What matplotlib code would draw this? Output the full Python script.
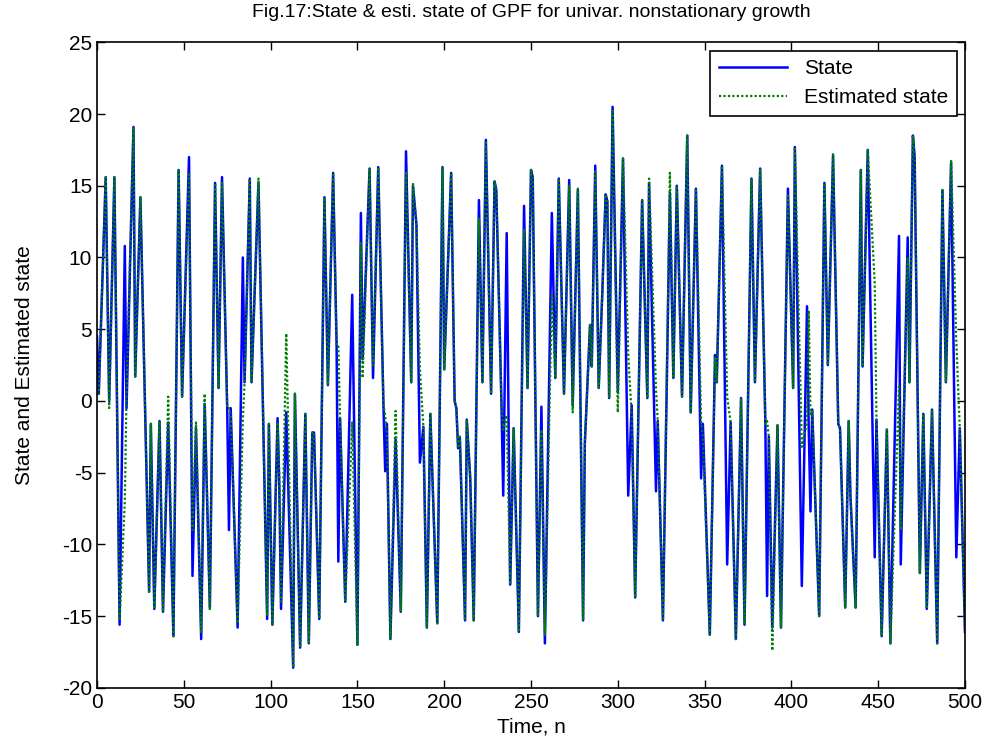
import matplotlib
matplotlib.use("Agg")
import matplotlib.pyplot as plt

plt.rcParams['font.family'] = ['Liberation Sans', 'DejaVu Sans']
plt.rcParams['axes.unicode_minus'] = False

# time steps where the trajectories turn, with true and estimated state values
time_n = [0, 1, 5, 7, 10, 13, 16, 17, 21, 22, 25, 30, 31, 33, 36, 38, 41, 44, 47, 49,
          53, 55, 57, 60, 62, 65, 68, 70, 72, 75, 76, 77, 81, 84, 85, 88, 89, 93, 98, 99,
          101, 104, 105, 106, 109, 113, 114, 117, 120, 122, 124, 125, 128, 131, 133, 136, 138, 139, 140, 143,
          147, 150, 152, 153, 157, 159, 162, 165, 166, 167, 169, 172, 175, 178, 181, 182, 184, 186, 188, 190,
          192, 196, 199, 200, 204, 206, 207, 208, 209, 212, 213, 215, 217, 220, 222, 224, 227, 229, 230, 233,
          234, 236, 238, 240, 243, 246, 248, 250, 251, 254, 256, 258, 262, 264, 266, 269, 272, 274, 277, 280,
          281, 284, 285, 287, 289, 291, 293, 294, 295, 297, 300, 303, 306, 308, 310, 314, 317, 318, 322, 323,
          326, 330, 332, 334, 337, 340, 342, 345, 348, 349, 353, 356, 357, 360, 363, 365, 368, 371, 373, 377,
          379, 382, 385, 386, 387, 389, 392, 394, 398, 401, 402, 406, 409, 410, 411, 412, 416, 419, 421, 424,
          427, 428, 431, 433, 434, 437, 440, 441, 444, 448, 449, 452, 455, 457, 462, 463, 467, 468, 470, 471,
          474, 476, 478, 481, 484, 487, 489, 492, 495, 497, 500]

state = [4.5, 0.5, 15.6, 0.0, 15.6, -15.6, 10.8, -0.5, 19.1, 1.7, 14.2, -13.3, -1.6, -14.5, -1.4, -14.7, -1.5, -16.4, 16.1, 0.3,
         17.0, -12.2, -1.9, -16.6, -0.2, -14.4, 15.2, 0.9, 15.6, -0.6, -9.0, -0.5, -15.8, 10.0, 1.3, 15.5, 1.3, 15.2, -15.2, -1.6,
         -15.6, -1.2, -6.0, -14.5, -0.8, -18.6, 0.5, -17.2, -0.9, -16.9, -2.2, -2.2, -15.2, 14.2, 1.1, 15.9, 4.0, -11.2, -1.2, -14.0,
         7.4, -17.0, 13.1, 2.9, 16.2, 1.6, 16.3, -0.3, -4.9, -1.6, -16.6, -2.7, -14.7, 17.4, 1.3, 15.0, 12.3, -4.3, -1.8, -15.8,
         -0.9, -15.5, 16.3, 2.2, 15.9, 0.0, -0.5, -3.3, -2.5, -15.3, -1.3, -5.4, -15.3, 14.0, 1.3, 18.2, 0.5, 15.3, 14.7, -0.3,
         -6.6, 11.7, -12.8, -1.9, -16.1, 13.6, 0.9, 16.1, 15.6, -15.0, -0.4, -16.9, 13.1, 1.6, 15.5, 0.5, 15.4, -0.3, 14.7, -15.3,
         -3.0, 5.3, 2.4, 16.4, 0.9, 7.3, 14.4, 13.9, 0.2, 20.5, 0.6, 16.9, -6.6, -0.3, -13.7, 14.0, 0.2, 15.2, -6.3, -1.4,
         -15.3, 14.5, 1.6, 15.0, 0.3, 18.5, -0.8, 14.8, -5.4, -1.6, -16.3, 3.2, 1.3, 16.4, -11.4, -1.5, -16.6, 0.2, -15.6, 15.5,
         1.3, 16.2, -1.6, -13.6, -2.5, -15.8, -1.7, -15.8, 14.8, 0.9, 17.7, -12.9, 6.6, -2.0, -7.7, -0.6, -15.0, 15.2, 2.5, 17.1,
         -1.6, -1.9, -14.4, -1.4, -6.6, -14.4, 16.1, 2.4, 17.5, -10.9, -1.3, -16.4, -2.0, -16.9, 11.5, -11.4, 11.4, 1.3, 18.5, 17.0,
         -12.0, -0.9, -14.5, -0.6, -16.9, 14.7, 1.3, 16.6, -10.9, -1.9, -16.1]

est_state = [0.5, 0.5, 15.6, -0.5, 15.6, -15.3, -7.0, 0.5, 19.1, 1.7, 14.2, -13.3, -1.6, -14.5, -1.4, -14.7, 0.3, -16.4, 16.1, 0.3,
             15.8, -9.0, -1.5, -16.2, 0.5, -14.6, 15.2, 0.9, 15.2, -0.5, -0.5, -1.0, -15.5, -1.3, 1.3, 15.5, 1.3, 15.5, -15.0, -1.6,
             -15.6, -1.5, -5.0, -14.0, 4.7, -18.6, 0.5, -17.2, -0.9, -16.9, -2.2, -2.2, -15.2, 14.2, 1.1, 15.9, 3.8, 3.8, -1.2, -14.0,
             -1.5, -17.0, 11.0, 1.6, 16.2, 2.5, 16.3, -0.3, -1.0, -2.5, -16.6, -0.7, -14.7, 16.0, 1.3, 15.2, 12.3, 2.2, -1.8, -15.8,
             -0.9, -15.5, 16.3, 2.2, 15.9, 0.0, -0.5, -3.3, -2.5, -15.3, -1.3, -5.4, -15.3, 12.7, 1.3, 18.0, 0.5, 15.3, 14.7, -0.3,
             -2.0, -1.0, -12.8, -1.9, -16.1, 12.0, 0.9, 16.1, 15.6, -15.0, -2.0, -16.3, 7.5, 1.6, 15.5, 0.5, 15.0, -0.8, 14.8, -15.3,
             -3.0, 5.3, 2.4, 16.0, 0.9, 7.3, 14.4, 13.9, 0.2, 20.2, -0.8, 16.9, 3.2, -1.0, -13.7, 14.0, 0.2, 15.5, 0.8, -1.4,
             -15.3, 15.9, 1.6, 15.0, 0.3, 18.5, -0.8, 14.8, -1.5, -2.5, -16.3, 3.0, 1.3, 16.4, 0.3, -1.5, -16.6, 0.2, -15.6, 15.5,
             1.3, 16.2, -1.6, -1.4, -2.5, -17.4, -1.7, -15.8, 14.3, 0.9, 17.7, -3.2, -1.5, 6.3, -1.0, -0.6, -15.0, 15.2, 2.5, 17.3,
             -1.6, -1.9, -14.4, -1.4, -6.6, -14.4, 16.1, 2.4, 17.5, 8.2, -1.3, -16.4, -2.0, -16.9, 1.0, -9.0, 10.0, 1.3, 18.5, 17.0,
             -12.0, -0.9, -14.5, -0.6, -16.9, 14.7, 1.3, 16.8, 4.1, -1.9, -16.1]

x_ticks = list(range(0, 501, 50))
y_ticks = list(range(-20, 26, 5))

fig = plt.figure(figsize=(9.87, 7.42), dpi=100)
ax = fig.add_axes([0.0983, 0.073, 0.8794, 0.870])

ax.plot(time_n, state, color='blue', linewidth=1.8, label='State')
ax.plot(time_n, est_state, color=(0, 0.5, 0), linewidth=1.6, linestyle=(0, (1, 1)),
        label='Estimated state')

ax.set_xlim(0, 500)
ax.set_ylim(-20, 25)
ax.set_xticks(x_ticks)
ax.set_yticks(y_ticks)
ax.tick_params(direction='in', top=True, right=True, labelsize=15, length=6, width=1)
for s in ax.spines.values():
    s.set_linewidth(1.2)

ax.set_xlabel('Time, n', fontsize=15, labelpad=4)
ax.set_ylabel('State and Estimated state', fontsize=15, labelpad=20)
ax.set_title('Fig.17:State & esti. state of GPF for univar. nonstationary growth',
             fontsize=14, pad=18)

leg = ax.legend(loc='upper right', fontsize=15, fancybox=False, framealpha=1,
                edgecolor='black', handlelength=3.3, borderaxespad=0.4)
leg.get_frame().set_linewidth(1.2)

fig.savefig('out.png', dpi=100)
